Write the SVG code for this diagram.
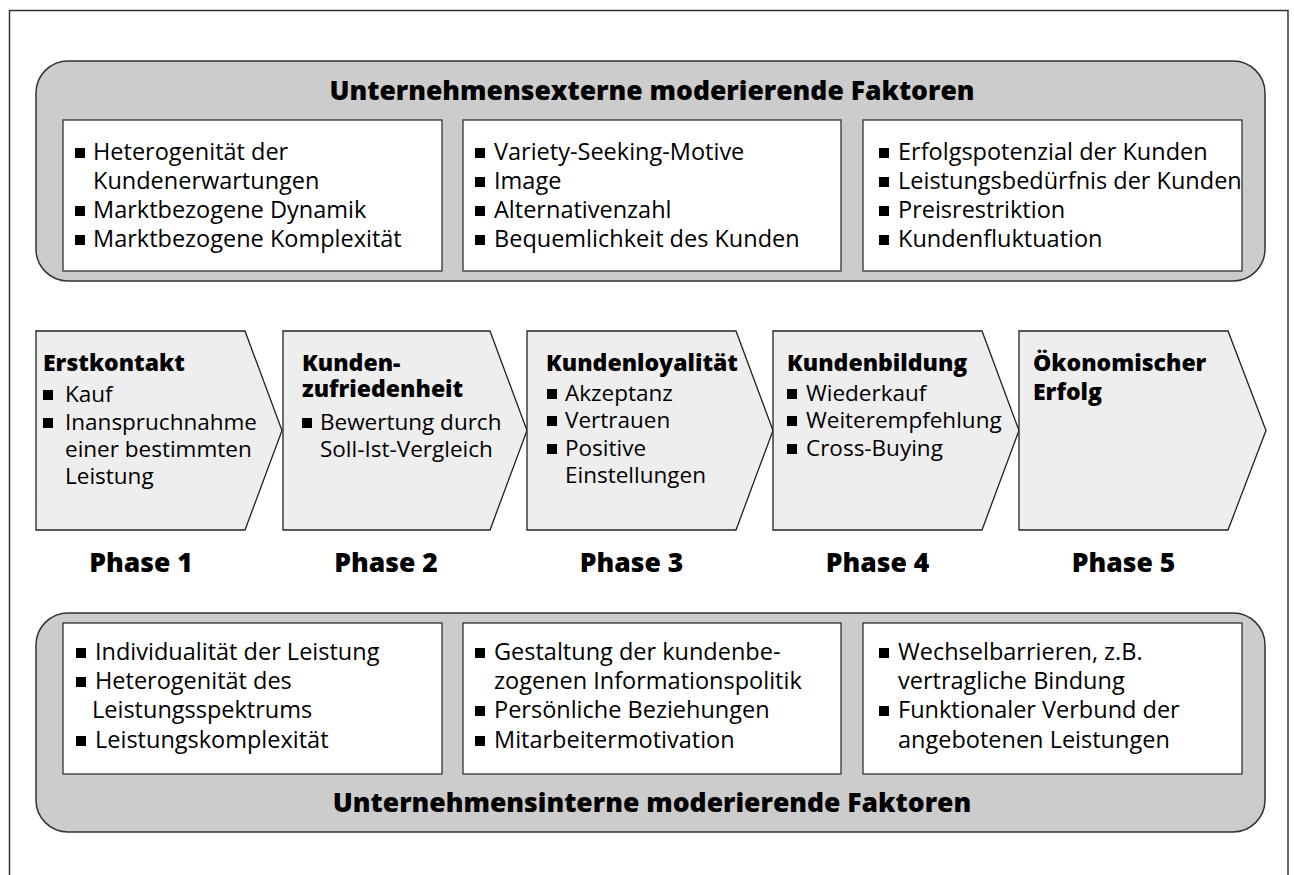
<svg xmlns="http://www.w3.org/2000/svg" xmlns:xlink="http://www.w3.org/1999/xlink" width="1294" height="875" viewBox="0 0 1294 875">
<style>
.frame{fill:#ffffff;stroke:#333333;stroke-width:1.5}
.group{fill:#cccccc;stroke:#333333;stroke-width:1.5}
.box{fill:#ffffff;stroke:#333333;stroke-width:1.3}
.phase{fill:#eeeeee;stroke:#222222;stroke-width:1.3}
text{font-family:"Open Sans","Noto Sans","Liberation Sans",sans-serif;fill:#000000}
.t{font-size:23.5px}
.p{font-size:22.5px}
.h{font-size:26.5px;font-weight:800;text-anchor:middle}
.ph{font-size:23px;font-weight:800}
.lab{font-size:26.5px;font-weight:800;text-anchor:middle}
</style>
<defs>
<rect id="b" width="10" height="10" fill="#000000"/>
</defs>
<rect class="frame" x="9.5" y="10.5" width="1278.5" height="880"/>

<g id="extern">
<rect class="group" x="36" y="61" width="1229" height="220" rx="32" ry="32"/>
<text class="h" x="652" y="100">Unternehmensexterne moderierende Faktoren</text>
</g>
<g id="extern-1">
<rect class="box" x="63" y="120" width="379" height="151"/>
<use xlink:href="#b" x="75" y="148"/><text class="t" x="93" y="160">Heterogenität der</text>
<text class="t" x="93" y="189">Kundenerwartungen</text>
<use xlink:href="#b" x="75" y="206"/><text class="t" x="93" y="218">Marktbezogene Dynamik</text>
<use xlink:href="#b" x="75" y="235"/><text class="t" x="93" y="247">Marktbezogene Komplexität</text>
</g>
<g id="extern-2">
<rect class="box" x="463" y="120" width="378" height="151"/>
<use xlink:href="#b" x="475" y="148"/><text class="t" x="494" y="160">Variety-Seeking-Motive</text>
<use xlink:href="#b" x="475" y="177"/><text class="t" x="494" y="189">Image</text>
<use xlink:href="#b" x="475" y="206"/><text class="t" x="494" y="218">Alternativenzahl</text>
<use xlink:href="#b" x="475" y="235"/><text class="t" x="494" y="247">Bequemlichkeit des Kunden</text>
</g>
<g id="extern-3">
<rect class="box" x="863" y="120" width="379" height="151"/>
<use xlink:href="#b" x="879" y="148"/><text class="t" x="898" y="160">Erfolgspotenzial der Kunden</text>
<use xlink:href="#b" x="879" y="177"/><text class="t" x="898" y="189">Leistungsbedürfnis der Kunden</text>
<use xlink:href="#b" x="879" y="206"/><text class="t" x="898" y="218">Preisrestriktion</text>
<use xlink:href="#b" x="879" y="235"/><text class="t" x="898" y="247">Kundenfluktuation</text>
</g>

<g id="phase1">
<polygon class="phase" points="36,331 245,331 282,430.5 245,530 36,530"/>
<text class="ph" x="43" y="371">Erstkontakt</text>
<use xlink:href="#b" x="43" y="390"/><text class="p" x="65" y="402">Kauf</text>
<use xlink:href="#b" x="43" y="418"/><text class="p" x="65" y="430">Inanspruchnahme</text>
<text class="p" x="65" y="457">einer bestimmten</text>
<text class="p" x="65" y="484">Leistung</text>
<text class="lab" x="141" y="572">Phase 1</text>
</g>
<g id="phase2">
<polygon class="phase" points="283,331 490,331 527,430.5 490,530 283,530"/>
<text class="ph" x="302" y="371">Kunden-</text>
<text class="ph" x="302" y="397">zufriedenheit</text>
<use xlink:href="#b" x="302" y="418"/><text class="p" x="320" y="430">Bewertung durch</text>
<text class="p" x="320" y="457">Soll-Ist-Vergleich</text>
<text class="lab" x="386" y="572">Phase 2</text>
</g>
<g id="phase3">
<polygon class="phase" points="527,331 736,331 773,430.5 736,530 527,530"/>
<text class="ph" x="546" y="371">Kundenloyalität</text>
<use xlink:href="#b" x="547" y="389"/><text class="p" x="565" y="401">Akzeptanz</text>
<use xlink:href="#b" x="547" y="416"/><text class="p" x="565" y="428">Vertrauen</text>
<use xlink:href="#b" x="547" y="444"/><text class="p" x="565" y="456">Positive</text>
<text class="p" x="565" y="483">Einstellungen</text>
<text class="lab" x="631.5" y="572">Phase 3</text>
</g>
<g id="phase4">
<polygon class="phase" points="773,331 982,331 1019,430.5 982,530 773,530"/>
<text class="ph" x="787" y="371">Kundenbildung</text>
<use xlink:href="#b" x="787" y="389"/><text class="p" x="806" y="401">Wiederkauf</text>
<use xlink:href="#b" x="787" y="416"/><text class="p" x="806" y="428">Weiterempfehlung</text>
<use xlink:href="#b" x="787" y="444"/><text class="p" x="806" y="456">Cross-Buying</text>
<text class="lab" x="877.5" y="572">Phase 4</text>
</g>
<g id="phase5">
<polygon class="phase" points="1019,331 1228,331 1266,430.5 1228,530 1019,530"/>
<text class="ph" x="1033" y="371">Ökonomischer</text>
<text class="ph" x="1033" y="400">Erfolg</text>
<text class="lab" x="1123.5" y="572">Phase 5</text>
</g>

<g id="intern">
<rect class="group" x="36" y="613" width="1229" height="219" rx="32" ry="32"/>
<text class="h" x="652" y="812">Unternehmensinterne moderierende Faktoren</text>
</g>
<g id="intern-1">
<rect class="box" x="63" y="623" width="379" height="151"/>
<use xlink:href="#b" x="76" y="648"/><text class="t" x="95" y="660">Individualität der Leistung</text>
<use xlink:href="#b" x="76" y="677"/><text class="t" x="95" y="689">Heterogenität des</text>
<text class="t" x="92" y="718">Leistungsspektrums</text>
<use xlink:href="#b" x="76" y="736"/><text class="t" x="95" y="748">Leistungskomplexität</text>
</g>
<g id="intern-2">
<rect class="box" x="463" y="623" width="378" height="151"/>
<use xlink:href="#b" x="475" y="648"/><text class="t" x="494" y="660">Gestaltung der kundenbe-</text>
<text class="t" x="494" y="689">zogenen Informationspolitik</text>
<use xlink:href="#b" x="475" y="706"/><text class="t" x="494" y="718">Persönliche Beziehungen</text>
<use xlink:href="#b" x="475" y="736"/><text class="t" x="494" y="748">Mitarbeitermotivation</text>
</g>
<g id="intern-3">
<rect class="box" x="863" y="623" width="379" height="151"/>
<use xlink:href="#b" x="879" y="648"/><text class="t" x="898" y="660">Wechselbarrieren, z.B.</text>
<text class="t" x="898" y="689">vertragliche Bindung</text>
<use xlink:href="#b" x="879" y="706"/><text class="t" x="898" y="718">Funktionaler Verbund der</text>
<text class="t" x="898" y="748">angebotenen Leistungen</text>
</g>
<g id="connectors"></g>
</svg>
